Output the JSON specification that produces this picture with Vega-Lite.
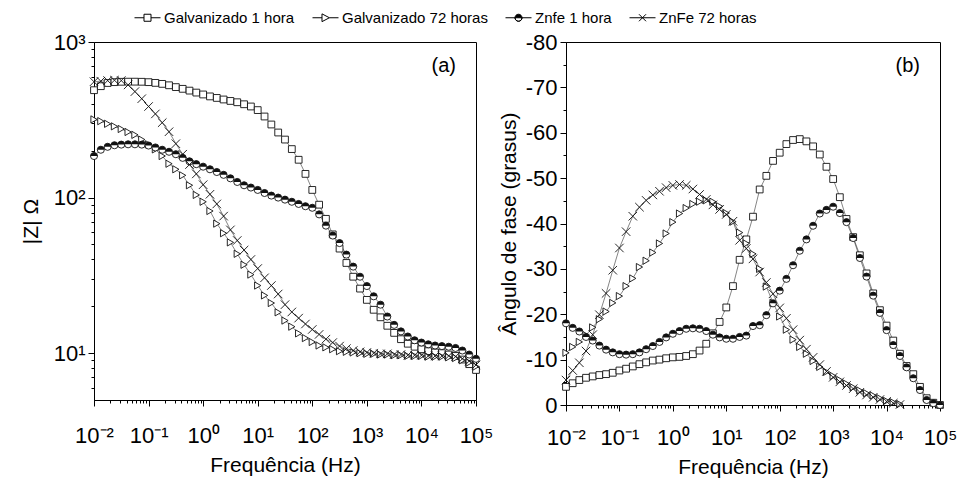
{
"$schema": "https://vega.github.io/schema/vega-lite/v6.json",
"background": "white",
"padding": {"left": 19, "top": 4, "right": 5, "bottom": 5},
"config": {
 "view": {"stroke": "black", "strokeWidth": 1},
 "font": "Liberation Sans",
 "axis": {"grid": false, "domainColor": "black", "tickColor": "black", "labelColor": "black", "titleColor": "black", "labelFont": "Liberation Sans", "titleFont": "Liberation Sans", "titleFontWeight": "normal", "labelFontSize": 22, "titleFontSize": 21, "labelFlush": false, "labelOverlap": false, "labelBound": false},
 "title": {"font": "Liberation Sans", "fontSize": 20, "fontWeight": "normal", "color": "black"}
},
"datasets": {"d": [
{"s":"Galvanizado 1 hora","f":0.01,"z":490,"p":-4.0},
{"s":"Galvanizado 1 hora","f":0.01334,"z":520,"p":-4.8},
{"s":"Galvanizado 1 hora","f":0.01778,"z":545,"p":-5.5},
{"s":"Galvanizado 1 hora","f":0.02371,"z":552,"p":-6.0},
{"s":"Galvanizado 1 hora","f":0.03162,"z":555,"p":-6.3},
{"s":"Galvanizado 1 hora","f":0.04217,"z":556,"p":-6.6},
{"s":"Galvanizado 1 hora","f":0.05623,"z":556,"p":-6.8},
{"s":"Galvanizado 1 hora","f":0.07499,"z":555,"p":-7.1},
{"s":"Galvanizado 1 hora","f":0.1,"z":552,"p":-7.6},
{"s":"Galvanizado 1 hora","f":0.1334,"z":546,"p":-8.0},
{"s":"Galvanizado 1 hora","f":0.1778,"z":538,"p":-8.5},
{"s":"Galvanizado 1 hora","f":0.2371,"z":527,"p":-9.0},
{"s":"Galvanizado 1 hora","f":0.3162,"z":513,"p":-9.4},
{"s":"Galvanizado 1 hora","f":0.4217,"z":500,"p":-9.8},
{"s":"Galvanizado 1 hora","f":0.5623,"z":487,"p":-10.0},
{"s":"Galvanizado 1 hora","f":0.7499,"z":473,"p":-10.3},
{"s":"Galvanizado 1 hora","f":1,"z":460,"p":-10.5},
{"s":"Galvanizado 1 hora","f":1.334,"z":447,"p":-10.6},
{"s":"Galvanizado 1 hora","f":1.778,"z":437,"p":-10.8},
{"s":"Galvanizado 1 hora","f":2.371,"z":427,"p":-11.2},
{"s":"Galvanizado 1 hora","f":3.162,"z":418,"p":-12.0},
{"s":"Galvanizado 1 hora","f":4.217,"z":410,"p":-13.5},
{"s":"Galvanizado 1 hora","f":5.623,"z":398,"p":-15.8},
{"s":"Galvanizado 1 hora","f":7.499,"z":385,"p":-18.3},
{"s":"Galvanizado 1 hora","f":10,"z":365,"p":-21.5},
{"s":"Galvanizado 1 hora","f":13.34,"z":332,"p":-26.2},
{"s":"Galvanizado 1 hora","f":17.78,"z":295,"p":-32.0},
{"s":"Galvanizado 1 hora","f":23.71,"z":262,"p":-36.5},
{"s":"Galvanizado 1 hora","f":31.62,"z":236,"p":-41.5},
{"s":"Galvanizado 1 hora","f":42.17,"z":205,"p":-47.5},
{"s":"Galvanizado 1 hora","f":56.23,"z":175,"p":-50.5},
{"s":"Galvanizado 1 hora","f":74.99,"z":142,"p":-53.8},
{"s":"Galvanizado 1 hora","f":100,"z":112,"p":-55.6},
{"s":"Galvanizado 1 hora","f":133.4,"z":90,"p":-57.5},
{"s":"Galvanizado 1 hora","f":177.8,"z":73,"p":-58.4},
{"s":"Galvanizado 1 hora","f":237.1,"z":58,"p":-58.6},
{"s":"Galvanizado 1 hora","f":316.2,"z":47,"p":-58.1},
{"s":"Galvanizado 1 hora","f":421.7,"z":38,"p":-57.0},
{"s":"Galvanizado 1 hora","f":562.3,"z":31,"p":-55.2},
{"s":"Galvanizado 1 hora","f":749.9,"z":26,"p":-52.5},
{"s":"Galvanizado 1 hora","f":1000,"z":22,"p":-49.8},
{"s":"Galvanizado 1 hora","f":1334,"z":19,"p":-45.8},
{"s":"Galvanizado 1 hora","f":1778,"z":17,"p":-41.0},
{"s":"Galvanizado 1 hora","f":2371,"z":15,"p":-37.0},
{"s":"Galvanizado 1 hora","f":3162,"z":13.5,"p":-33.0},
{"s":"Galvanizado 1 hora","f":4217,"z":12.3,"p":-29.0},
{"s":"Galvanizado 1 hora","f":5623,"z":11.5,"p":-24.6},
{"s":"Galvanizado 1 hora","f":7499,"z":11,"p":-20.9},
{"s":"Galvanizado 1 hora","f":10000,"z":10.6,"p":-17.5},
{"s":"Galvanizado 1 hora","f":13340,"z":10.3,"p":-14.2},
{"s":"Galvanizado 1 hora","f":17780,"z":10.1,"p":-11.3},
{"s":"Galvanizado 1 hora","f":23710,"z":10.0,"p":-8.6},
{"s":"Galvanizado 1 hora","f":31620,"z":9.8,"p":-6.8},
{"s":"Galvanizado 1 hora","f":42170,"z":9.6,"p":-4.0},
{"s":"Galvanizado 1 hora","f":56230,"z":9.1,"p":-1.5},
{"s":"Galvanizado 1 hora","f":74990,"z":8.5,"p":-0.5},
{"s":"Galvanizado 1 hora","f":100000,"z":7.8,"p":0},
{"s":"Galvanizado 72 horas","f":0.01,"z":318,"p":-11.5},
{"s":"Galvanizado 72 horas","f":0.01334,"z":310,"p":-12.8},
{"s":"Galvanizado 72 horas","f":0.01778,"z":298,"p":-13.9},
{"s":"Galvanizado 72 horas","f":0.02371,"z":287,"p":-15.4},
{"s":"Galvanizado 72 horas","f":0.03162,"z":276,"p":-17.1},
{"s":"Galvanizado 72 horas","f":0.04217,"z":264,"p":-18.9},
{"s":"Galvanizado 72 horas","f":0.05623,"z":253,"p":-20.6},
{"s":"Galvanizado 72 horas","f":0.07499,"z":236,"p":-22.5},
{"s":"Galvanizado 72 horas","f":0.1,"z":220,"p":-24.0},
{"s":"Galvanizado 72 horas","f":0.1334,"z":204,"p":-26.2},
{"s":"Galvanizado 72 horas","f":0.1778,"z":185,"p":-27.9},
{"s":"Galvanizado 72 horas","f":0.2371,"z":165,"p":-30.4},
{"s":"Galvanizado 72 horas","f":0.3162,"z":152,"p":-31.8},
{"s":"Galvanizado 72 horas","f":0.4217,"z":139,"p":-33.6},
{"s":"Galvanizado 72 horas","f":0.5623,"z":120,"p":-35.6},
{"s":"Galvanizado 72 horas","f":0.7499,"z":104,"p":-37.8},
{"s":"Galvanizado 72 horas","f":1,"z":94,"p":-40.3},
{"s":"Galvanizado 72 horas","f":1.334,"z":82,"p":-42.2},
{"s":"Galvanizado 72 horas","f":1.778,"z":68,"p":-43.4},
{"s":"Galvanizado 72 horas","f":2.371,"z":59,"p":-44.3},
{"s":"Galvanizado 72 horas","f":3.162,"z":51.5,"p":-44.8},
{"s":"Galvanizado 72 horas","f":4.217,"z":43.5,"p":-45.1},
{"s":"Galvanizado 72 horas","f":5.623,"z":37,"p":-44.8},
{"s":"Galvanizado 72 horas","f":7.499,"z":32,"p":-43.8},
{"s":"Galvanizado 72 horas","f":10,"z":27.2,"p":-42.3},
{"s":"Galvanizado 72 horas","f":13.34,"z":23.5,"p":-40.4},
{"s":"Galvanizado 72 horas","f":17.78,"z":21,"p":-38.0},
{"s":"Galvanizado 72 horas","f":23.71,"z":18.3,"p":-35.6},
{"s":"Galvanizado 72 horas","f":31.62,"z":16.2,"p":-33.3},
{"s":"Galvanizado 72 horas","f":42.17,"z":14.8,"p":-30.0},
{"s":"Galvanizado 72 horas","f":56.23,"z":13.4,"p":-26.1},
{"s":"Galvanizado 72 horas","f":74.99,"z":12.5,"p":-22.5},
{"s":"Galvanizado 72 horas","f":100,"z":11.8,"p":-19.5},
{"s":"Galvanizado 72 horas","f":133.4,"z":11.2,"p":-16.6},
{"s":"Galvanizado 72 horas","f":177.8,"z":10.9,"p":-14.4},
{"s":"Galvanizado 72 horas","f":237.1,"z":10.6,"p":-12.8},
{"s":"Galvanizado 72 horas","f":316.2,"z":10.3,"p":-11.3},
{"s":"Galvanizado 72 horas","f":421.7,"z":10.2,"p":-9.7},
{"s":"Galvanizado 72 horas","f":562.3,"z":10.1,"p":-8.4},
{"s":"Galvanizado 72 horas","f":749.9,"z":10.0,"p":-7.3},
{"s":"Galvanizado 72 horas","f":1000,"z":9.9,"p":-6.4},
{"s":"Galvanizado 72 horas","f":1334,"z":9.9,"p":-5.5},
{"s":"Galvanizado 72 horas","f":1778,"z":9.8,"p":-4.7},
{"s":"Galvanizado 72 horas","f":2371,"z":9.8,"p":-3.9},
{"s":"Galvanizado 72 horas","f":3162,"z":9.7,"p":-3.2},
{"s":"Galvanizado 72 horas","f":4217,"z":9.7,"p":-2.6},
{"s":"Galvanizado 72 horas","f":5623,"z":9.6,"p":-2.1},
{"s":"Galvanizado 72 horas","f":7499,"z":9.6,"p":-1.5},
{"s":"Galvanizado 72 horas","f":10000,"z":9.6,"p":-0.9},
{"s":"Galvanizado 72 horas","f":13340,"z":9.5,"p":-0.6},
{"s":"Galvanizado 72 horas","f":17780,"z":9.5,"p":-0.2},
{"s":"Galvanizado 72 horas","f":23710,"z":9.5,"p":null},
{"s":"Galvanizado 72 horas","f":31620,"z":9.4,"p":null},
{"s":"Galvanizado 72 horas","f":42170,"z":9.3,"p":null},
{"s":"Galvanizado 72 horas","f":56230,"z":9.0,"p":null},
{"s":"Galvanizado 72 horas","f":74990,"z":8.7,"p":null},
{"s":"Galvanizado 72 horas","f":100000,"z":8.2,"p":null},
{"s":"Znfe 1 hora","f":0.01,"z":185,"p":-18.0},
{"s":"Znfe 1 hora","f":0.01334,"z":203,"p":-17.0},
{"s":"Znfe 1 hora","f":0.01778,"z":212,"p":-16.2},
{"s":"Znfe 1 hora","f":0.02371,"z":217,"p":-15.0},
{"s":"Znfe 1 hora","f":0.03162,"z":219,"p":-14.2},
{"s":"Znfe 1 hora","f":0.04217,"z":220,"p":-13.1},
{"s":"Znfe 1 hora","f":0.05623,"z":220,"p":-12.2},
{"s":"Znfe 1 hora","f":0.07499,"z":219,"p":-11.6},
{"s":"Znfe 1 hora","f":0.1,"z":216,"p":-11.2},
{"s":"Znfe 1 hora","f":0.1334,"z":210,"p":-11.1},
{"s":"Znfe 1 hora","f":0.1778,"z":203,"p":-11.2},
{"s":"Znfe 1 hora","f":0.2371,"z":197,"p":-11.6},
{"s":"Znfe 1 hora","f":0.3162,"z":190,"p":-12.3},
{"s":"Znfe 1 hora","f":0.4217,"z":180,"p":-13.0},
{"s":"Znfe 1 hora","f":0.5623,"z":171,"p":-13.9},
{"s":"Znfe 1 hora","f":0.7499,"z":164,"p":-14.9},
{"s":"Znfe 1 hora","f":1,"z":158,"p":-15.7},
{"s":"Znfe 1 hora","f":1.334,"z":152,"p":-16.3},
{"s":"Znfe 1 hora","f":1.778,"z":146,"p":-16.8},
{"s":"Znfe 1 hora","f":2.371,"z":140,"p":-16.9},
{"s":"Znfe 1 hora","f":3.162,"z":133,"p":-16.8},
{"s":"Znfe 1 hora","f":4.217,"z":126,"p":-16.3},
{"s":"Znfe 1 hora","f":5.623,"z":120,"p":-15.5},
{"s":"Znfe 1 hora","f":7.499,"z":116,"p":-14.9},
{"s":"Znfe 1 hora","f":10,"z":112,"p":-14.6},
{"s":"Znfe 1 hora","f":13.34,"z":107,"p":-14.6},
{"s":"Znfe 1 hora","f":17.78,"z":103,"p":-15.0},
{"s":"Znfe 1 hora","f":23.71,"z":100,"p":-15.3},
{"s":"Znfe 1 hora","f":31.62,"z":97,"p":-17.4},
{"s":"Znfe 1 hora","f":42.17,"z":94,"p":-17.6},
{"s":"Znfe 1 hora","f":56.23,"z":91,"p":-19.8},
{"s":"Znfe 1 hora","f":74.99,"z":88,"p":-22.4},
{"s":"Znfe 1 hora","f":100,"z":86,"p":-25.2},
{"s":"Znfe 1 hora","f":133.4,"z":78,"p":-27.8},
{"s":"Znfe 1 hora","f":177.8,"z":66,"p":-30.8},
{"s":"Znfe 1 hora","f":237.1,"z":57,"p":-34.0},
{"s":"Znfe 1 hora","f":316.2,"z":51,"p":-36.5},
{"s":"Znfe 1 hora","f":421.7,"z":43,"p":-39.5},
{"s":"Znfe 1 hora","f":562.3,"z":36,"p":-42.2},
{"s":"Znfe 1 hora","f":749.9,"z":31,"p":-43.0},
{"s":"Znfe 1 hora","f":1000,"z":27,"p":-43.7},
{"s":"Znfe 1 hora","f":1334,"z":23.2,"p":-42.3},
{"s":"Znfe 1 hora","f":1778,"z":20.5,"p":-40.3},
{"s":"Znfe 1 hora","f":2371,"z":17.2,"p":-36.8},
{"s":"Znfe 1 hora","f":3162,"z":15.2,"p":-32.4},
{"s":"Znfe 1 hora","f":4217,"z":13.8,"p":-28.3},
{"s":"Znfe 1 hora","f":5623,"z":12.8,"p":-24.1},
{"s":"Znfe 1 hora","f":7499,"z":12.1,"p":-20.3},
{"s":"Znfe 1 hora","f":10000,"z":11.7,"p":-16.5},
{"s":"Znfe 1 hora","f":13340,"z":11.4,"p":-13.2},
{"s":"Znfe 1 hora","f":17780,"z":11.2,"p":-10.8},
{"s":"Znfe 1 hora","f":23710,"z":11.1,"p":-8.3},
{"s":"Znfe 1 hora","f":31620,"z":11.0,"p":-5.9},
{"s":"Znfe 1 hora","f":42170,"z":10.8,"p":-3.3},
{"s":"Znfe 1 hora","f":56230,"z":10.4,"p":-1.1},
{"s":"Znfe 1 hora","f":74990,"z":9.8,"p":-0.4},
{"s":"Znfe 1 hora","f":100000,"z":9.2,"p":0},
{"s":"ZnFe 72 horas","f":0.01,"z":555,"p":-5.5},
{"s":"ZnFe 72 horas","f":0.01334,"z":560,"p":-7.6},
{"s":"ZnFe 72 horas","f":0.01778,"z":565,"p":-9.3},
{"s":"ZnFe 72 horas","f":0.02371,"z":568,"p":-11.9},
{"s":"ZnFe 72 horas","f":0.03162,"z":565,"p":-15.5},
{"s":"ZnFe 72 horas","f":0.04217,"z":530,"p":-19.9},
{"s":"ZnFe 72 horas","f":0.05623,"z":480,"p":-24.6},
{"s":"ZnFe 72 horas","f":0.07499,"z":432,"p":-29.7},
{"s":"ZnFe 72 horas","f":0.1,"z":385,"p":-34.6},
{"s":"ZnFe 72 horas","f":0.1334,"z":345,"p":-38.2},
{"s":"ZnFe 72 horas","f":0.1778,"z":303,"p":-41.6},
{"s":"ZnFe 72 horas","f":0.2371,"z":265,"p":-43.6},
{"s":"ZnFe 72 horas","f":0.3162,"z":222,"p":-45.1},
{"s":"ZnFe 72 horas","f":0.4217,"z":190,"p":-46.3},
{"s":"ZnFe 72 horas","f":0.5623,"z":163,"p":-47.1},
{"s":"ZnFe 72 horas","f":0.7499,"z":142,"p":-47.9},
{"s":"ZnFe 72 horas","f":1,"z":121,"p":-48.4},
{"s":"ZnFe 72 horas","f":1.334,"z":105,"p":-48.6},
{"s":"ZnFe 72 horas","f":1.778,"z":91,"p":-48.4},
{"s":"ZnFe 72 horas","f":2.371,"z":76,"p":-47.6},
{"s":"ZnFe 72 horas","f":3.162,"z":62,"p":-46.4},
{"s":"ZnFe 72 horas","f":4.217,"z":53,"p":-45.3},
{"s":"ZnFe 72 horas","f":5.623,"z":46,"p":-44.1},
{"s":"ZnFe 72 horas","f":7.499,"z":40,"p":-43.1},
{"s":"ZnFe 72 horas","f":10,"z":35,"p":-42.0},
{"s":"ZnFe 72 horas","f":13.34,"z":30.5,"p":-40.5},
{"s":"ZnFe 72 horas","f":17.78,"z":27.2,"p":-36.3},
{"s":"ZnFe 72 horas","f":23.71,"z":24,"p":-34.5},
{"s":"ZnFe 72 horas","f":31.62,"z":20.5,"p":-32.2},
{"s":"ZnFe 72 horas","f":42.17,"z":18.4,"p":-29.3},
{"s":"ZnFe 72 horas","f":56.23,"z":16.8,"p":-27.0},
{"s":"ZnFe 72 horas","f":74.99,"z":15.4,"p":-24.5},
{"s":"ZnFe 72 horas","f":100,"z":14.2,"p":-21.4},
{"s":"ZnFe 72 horas","f":133.4,"z":13.2,"p":-19.1},
{"s":"ZnFe 72 horas","f":177.8,"z":12.3,"p":-16.6},
{"s":"ZnFe 72 horas","f":237.1,"z":11.7,"p":-14.3},
{"s":"ZnFe 72 horas","f":316.2,"z":11.1,"p":-12.3},
{"s":"ZnFe 72 horas","f":421.7,"z":10.7,"p":-10.5},
{"s":"ZnFe 72 horas","f":562.3,"z":10.4,"p":-8.9},
{"s":"ZnFe 72 horas","f":749.9,"z":10.2,"p":-7.4},
{"s":"ZnFe 72 horas","f":1000,"z":10.1,"p":-6.1},
{"s":"ZnFe 72 horas","f":1334,"z":10.0,"p":-5.1},
{"s":"ZnFe 72 horas","f":1778,"z":9.9,"p":-4.3},
{"s":"ZnFe 72 horas","f":2371,"z":9.9,"p":-3.6},
{"s":"ZnFe 72 horas","f":3162,"z":9.8,"p":-2.8},
{"s":"ZnFe 72 horas","f":4217,"z":9.8,"p":-2.2},
{"s":"ZnFe 72 horas","f":5623,"z":9.7,"p":-1.7},
{"s":"ZnFe 72 horas","f":7499,"z":9.7,"p":-1.2},
{"s":"ZnFe 72 horas","f":10000,"z":9.7,"p":-0.8},
{"s":"ZnFe 72 horas","f":13340,"z":9.6,"p":-0.4},
{"s":"ZnFe 72 horas","f":17780,"z":9.6,"p":-0.1},
{"s":"ZnFe 72 horas","f":23710,"z":9.6,"p":null},
{"s":"ZnFe 72 horas","f":31620,"z":9.6,"p":null},
{"s":"ZnFe 72 horas","f":42170,"z":9.5,"p":null},
{"s":"ZnFe 72 horas","f":56230,"z":9.2,"p":null},
{"s":"ZnFe 72 horas","f":74990,"z":8.9,"p":null},
{"s":"ZnFe 72 horas","f":100000,"z":8.4,"p":null}
]},
"data": {"name": "d"},
"spacing": 3,
"hconcat": [
{
 "width": 382, "height": 358,
 "title": {"text": "(a)", "anchor": "end", "frame": "group", "orient": "top", "offset": -45, "dx": -20},
 "layer": [
  {"mark": {"type": "line", "stroke": "#333", "strokeWidth": 0.6},
   "encoding": {
    "x": {"field": "f", "type": "quantitative", "scale": {"type": "log", "domain": [0.01, 100000], "nice": false},
          "axis": {"orient": "bottom", "values": [0.02,0.03,0.04,0.05,0.06,0.07,0.08,0.09,0.2,0.3,0.4,0.5,0.6,0.7,0.8,0.9,2,3,4,5,6,7,8,9,20,30,40,50,60,70,80,90,200,300,400,500,600,700,800,900,2000,3000,4000,5000,6000,7000,8000,9000,20000,30000,40000,50000,60000,70000,80000,90000], "labels": false, "title": null, "tickSize": 3, "domain": false}},
    "y": {"field": "z", "type": "quantitative", "scale": {"type": "log", "domain": [5, 1000], "nice": false},
          "axis": {"orient": "left", "values": [6,7,8,9,20,30,40,50,60,70,80,90,200,300,400,500,600,700,800,900], "labels": false, "title": null, "tickSize": 3, "domain": false}},
    "detail": {"field": "s"}
   }},
  {"transform": [{"filter": "datum.s === 'Galvanizado 1 hora'"}],
   "mark": {"type": "point", "shape": "square", "filled": true, "fill": "white", "stroke": "#111", "strokeWidth": 0.9, "opacity": 1, "size": 46},
   "encoding": {
    "x": {"field": "f", "type": "quantitative",
          "axis": {"orient": "bottom", "values": [0.01,0.1,1,10,100,1000,10000,100000], "labelExpr": "'10' + ['⁻²','⁻¹','⁰','¹','²','³','⁴','⁵'][round(log(datum.value)/LN10)+2]", "title": "Frequência (Hz)", "tickSize": 6, "labelPadding": 19, "titlePadding": 8}},
    "y": {"field": "z", "type": "quantitative",
          "axis": {"orient": "left", "values": [10,100,1000], "labelExpr": "'10' + ['⁻²','⁻¹','⁰','¹','²','³','⁴','⁵'][round(log(datum.value)/LN10)+2]", "title": "|Z| Ω", "tickSize": 6, "labelPadding": 3, "titlePadding": 12}}
   }},
  {"transform": [{"filter": "datum.s === 'Galvanizado 72 horas'"}],
   "mark": {"type": "point", "shape": "triangle-right", "filled": true, "fill": "white", "stroke": "#111", "strokeWidth": 0.9, "opacity": 1, "size": 52},
   "encoding": {"x": {"field": "f", "type": "quantitative", "axis": null}, "y": {"field": "z", "type": "quantitative", "axis": null}}},
  {"transform": [{"filter": "datum.s === 'Znfe 1 hora'"}],
   "mark": {"type": "point", "shape": "circle", "filled": true, "fill": "white", "stroke": "#111", "strokeWidth": 0.9, "opacity": 1, "size": 50},
   "encoding": {"x": {"field": "f", "type": "quantitative", "axis": null}, "y": {"field": "z", "type": "quantitative", "axis": null}}},
  {"transform": [{"filter": "datum.s === 'Znfe 1 hora'"}],
   "mark": {"type": "point", "shape": "M-1,0A1,1 0 0,1 1,0Z", "filled": true, "fill": "#111", "strokeWidth": 0, "size": 50, "opacity": 1},
   "encoding": {"x": {"field": "f", "type": "quantitative", "axis": null}, "y": {"field": "z", "type": "quantitative", "axis": null}}},
  {"transform": [{"filter": "datum.s === 'ZnFe 72 horas'"}],
   "mark": {"type": "point", "shape": "M-1.2,-1.2L1.2,1.2M-1.2,1.2L1.2,-1.2", "filled": false, "stroke": "#111", "strokeWidth": 0.9, "opacity": 1, "size": 50},
   "encoding": {"x": {"field": "f", "type": "quantitative", "axis": null}, "y": {"field": "z", "type": "quantitative", "axis": null}}},
  {"transform": [{"filter": "false"}],
   "mark": {"type": "point", "filled": true, "stroke": "black", "strokeWidth": 1, "opacity": 1,
     "shape": {"expr": "datum.value === 'Galvanizado 1 hora' ? 'M-1,0H-0.27M0.27,0H1M-0.27,-0.27H0.27V0.27H-0.27Z' : datum.value === 'Galvanizado 72 horas' ? 'M-1,0H-0.27M0.3,0H1M-0.27,-0.3L0.3,0L-0.27,0.3Z' : datum.value === 'Znfe 1 hora' ? 'M-1,0H-0.27M0.27,0H1M-0.27,0A0.27,0.27 0 0,1 0.27,0ZM-0.27,0A0.27,0.27 0 0,0 0.27,0A0.27,0.27 0 0,1 -0.27,0' : 'M-1,0H1M-0.27,-0.27L0.27,0.27M-0.27,0.27L0.27,-0.27'"}},
   "encoding": {
    "x": {"field": "f", "type": "quantitative", "axis": null},
    "y": {"field": "z", "type": "quantitative", "axis": null},
    "fill": {"field": "s", "type": "nominal",
      "scale": {"domain": ["Galvanizado 1 hora","Galvanizado 72 horas","Znfe 1 hora","ZnFe 72 horas"], "range": ["white","white","black","white"]},
      "legend": {"orient": "none", "legendX": 40, "legendY": -38, "direction": "horizontal", "title": null, "symbolSize": 676, "symbolStrokeColor": "black", "symbolStrokeWidth": 1, "labelFontSize": 15, "labelFont": "Liberation Sans", "labelColor": "black", "labelOffset": 3, "columnPadding": 15,
        "symbolType": {"expr": "datum.value === 'Galvanizado 1 hora' ? 'M-1,0H-0.27M0.27,0H1M-0.27,-0.27H0.27V0.27H-0.27Z' : datum.value === 'Galvanizado 72 horas' ? 'M-1,0H-0.27M0.3,0H1M-0.27,-0.3L0.3,0L-0.27,0.3Z' : datum.value === 'Znfe 1 hora' ? 'M-1,0H-0.27M0.27,0H1M-0.27,0A0.27,0.27 0 0,1 0.27,0ZM-0.27,0A0.27,0.27 0 0,0 0.27,0A0.27,0.27 0 0,1 -0.27,0' : 'M-1,0H1M-0.27,-0.27L0.27,0.27M-0.27,0.27L0.27,-0.27'"}}
    }
   }}
 ],
 "resolve": {"axis": {"x": "independent", "y": "independent"}}
},
{
 "width": 374, "height": 363,
 "title": {"text": "(b)", "anchor": "end", "frame": "group", "orient": "top", "offset": -45, "dx": -20},
 "layer": [
  {"mark": {"type": "line", "stroke": "#333", "strokeWidth": 0.6},
   "encoding": {
    "x": {"field": "f", "type": "quantitative", "scale": {"type": "log", "domain": [0.01, 100000], "nice": false},
          "axis": {"orient": "bottom", "values": [0.02,0.03,0.04,0.05,0.06,0.07,0.08,0.09,0.2,0.3,0.4,0.5,0.6,0.7,0.8,0.9,2,3,4,5,6,7,8,9,20,30,40,50,60,70,80,90,200,300,400,500,600,700,800,900,2000,3000,4000,5000,6000,7000,8000,9000,20000,30000,40000,50000,60000,70000,80000,90000], "labels": false, "title": null, "tickSize": 3, "domain": false}},
    "y": {"field": "p", "type": "quantitative", "scale": {"domain": [-80, 0], "reverse": true, "nice": false, "zero": false},
          "axis": {"orient": "left", "values": [-5,-15,-25,-35,-45,-55,-65,-75], "labels": false, "title": null, "tickSize": 3, "domain": false}},
    "detail": {"field": "s"}
   }},
  {"transform": [{"filter": "datum.s === 'Galvanizado 1 hora'"}],
   "mark": {"type": "point", "shape": "square", "filled": true, "fill": "white", "stroke": "#111", "strokeWidth": 0.9, "opacity": 1, "size": 46},
   "encoding": {
    "x": {"field": "f", "type": "quantitative",
          "axis": {"orient": "bottom", "values": [0.01,0.1,1,10,100,1000,10000,100000], "labelExpr": "'10' + ['⁻²','⁻¹','⁰','¹','²','³','⁴','⁵'][round(log(datum.value)/LN10)+2]", "title": "Frequência (Hz)", "tickSize": 6, "labelPadding": 16, "titlePadding": 8}},
    "y": {"field": "p", "type": "quantitative",
          "axis": {"orient": "left", "values": [0,-10,-20,-30,-40,-50,-60,-70,-80], "labelExpr": "'' + datum.value", "title": "Ângulo de fase (grasus)", "tickSize": 6, "labelPadding": 3, "titlePadding": 6}}
   }},
  {"transform": [{"filter": "datum.s === 'Galvanizado 72 horas'"}],
   "mark": {"type": "point", "shape": "triangle-right", "filled": true, "fill": "white", "stroke": "#111", "strokeWidth": 0.9, "opacity": 1, "size": 52},
   "encoding": {"x": {"field": "f", "type": "quantitative", "axis": null}, "y": {"field": "p", "type": "quantitative", "axis": null}}},
  {"transform": [{"filter": "datum.s === 'Znfe 1 hora'"}],
   "mark": {"type": "point", "shape": "circle", "filled": true, "fill": "white", "stroke": "#111", "strokeWidth": 0.9, "opacity": 1, "size": 50},
   "encoding": {"x": {"field": "f", "type": "quantitative", "axis": null}, "y": {"field": "p", "type": "quantitative", "axis": null}}},
  {"transform": [{"filter": "datum.s === 'Znfe 1 hora'"}],
   "mark": {"type": "point", "shape": "M-1,0A1,1 0 0,1 1,0Z", "filled": true, "fill": "#111", "strokeWidth": 0, "size": 50, "opacity": 1},
   "encoding": {"x": {"field": "f", "type": "quantitative", "axis": null}, "y": {"field": "p", "type": "quantitative", "axis": null}}},
  {"transform": [{"filter": "datum.s === 'ZnFe 72 horas'"}],
   "mark": {"type": "point", "shape": "M-1.2,-1.2L1.2,1.2M-1.2,1.2L1.2,-1.2", "filled": false, "stroke": "#111", "strokeWidth": 0.9, "opacity": 1, "size": 50},
   "encoding": {"x": {"field": "f", "type": "quantitative", "axis": null}, "y": {"field": "p", "type": "quantitative", "axis": null}}}
 ],
 "resolve": {"axis": {"x": "independent", "y": "independent"}}
}
]
}
